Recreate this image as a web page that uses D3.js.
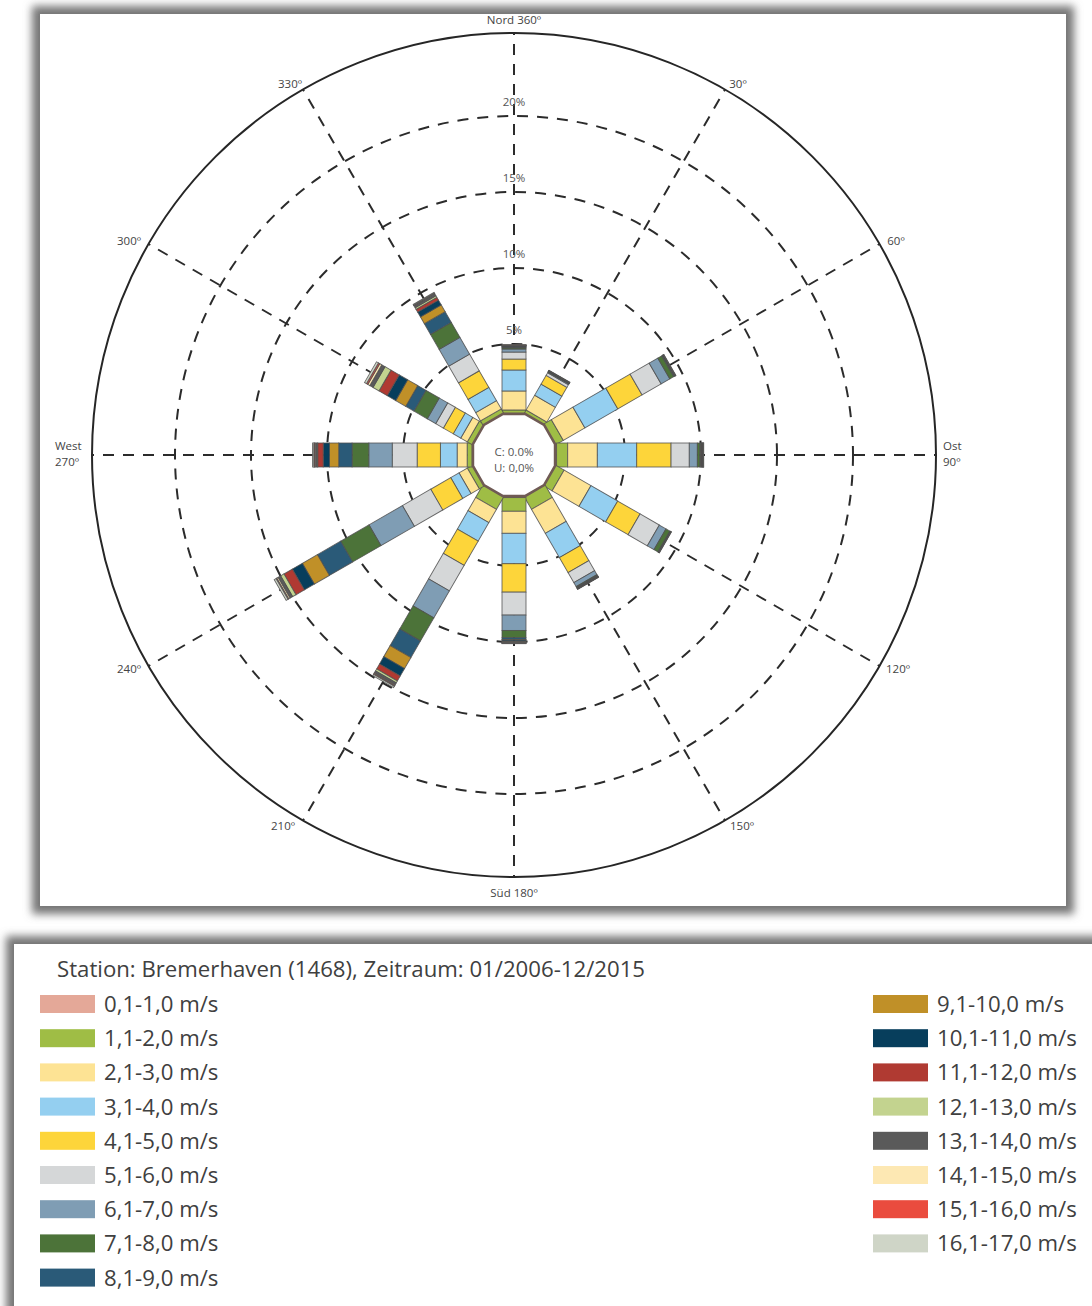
<!DOCTYPE html>
<html>
<head>
<meta charset="utf-8">
<script src="https://cdn.jsdelivr.net/npm/d3@7"></script>
<style>
  html, body { margin: 0; padding: 0; background: #ffffff; }
  svg { display: block; }
</style>
</head>
<body>
<svg id="chart" width="1092" height="1306"></svg>
<script>
// Wind-speed classes (legend order) and their fill colours
const speedClasses = [
  "0,1-1,0 m/s", "1,1-2,0 m/s", "2,1-3,0 m/s", "3,1-4,0 m/s", "4,1-5,0 m/s",
  "5,1-6,0 m/s", "6,1-7,0 m/s", "7,1-8,0 m/s", "8,1-9,0 m/s", "9,1-10,0 m/s",
  "10,1-11,0 m/s", "11,1-12,0 m/s", "12,1-13,0 m/s", "13,1-14,0 m/s",
  "14,1-15,0 m/s", "15,1-16,0 m/s", "16,1-17,0 m/s"
];
const classColors = [
  "#e4a898", "#9fbd45", "#fde394", "#94cff0", "#fdd53a", "#d5d7d8",
  "#7f9db4", "#4c7339", "#2a5a78", "#c09028", "#073e5c", "#b03a32",
  "#c3d38f", "#5a5a5a", "#fde8b3", "#ea4c3e", "#cfd5c7"
];

// Direction sectors (degrees, clockwise from north)
const directions = [0, 30, 60, 90, 120, 150, 180, 210, 240, 270, 300, 330];

// Frequency (%) per speed class for each direction sector
const dir0   = [0.33,0.33,1.25,1.38,0.72,0.46,0.20,0.08,0.05,0.03,0.04,0.02,0.01,0.02,0.01,0.01,0.01];
const dir30  = [0.33,0.33,1.12,0.85,0.66,0.20,0.06,0.03,0.02,0.01,0.03,0.01,0.01,0.02,0.00,0.00,0.00];
const dir60  = [0.33,0.66,1.64,2.50,1.84,1.45,0.66,0.30,0.06,0.02,0.03,0.01,0.01,0.02,0.00,0.00,0.01];
const dir90  = [0.50,0.73,1.95,2.59,2.26,1.20,0.53,0.17,0.06,0.03,0.04,0.02,0.02,0.04,0.01,0.01,0.02];
const dir120 = [0.40,0.65,2.04,2.03,1.70,1.46,0.51,0.30,0.03,0.02,0.02,0.01,0.01,0.02,0.00,0.00,0.00];
const dir150 = [0.40,0.97,1.82,1.85,1.14,0.76,0.30,0.06,0.06,0.02,0.03,0.01,0.01,0.02,0.00,0.00,0.00];
const dir180 = [0.50,0.90,1.45,2.00,1.87,1.51,1.01,0.48,0.12,0.04,0.08,0.03,0.02,0.04,0.02,0.02,0.02];
const dir210 = [0.40,0.97,1.01,1.40,1.85,1.94,2.04,1.76,1.26,0.84,0.56,0.38,0.15,0.15,0.05,0.05,0.10];
const dir240 = [0.40,0.39,0.63,0.63,1.52,2.15,2.54,2.15,1.77,1.14,0.76,0.64,0.25,0.20,0.10,0.05,0.14];
const dir270 = [0.45,0.33,0.66,1.10,1.53,1.64,1.54,1.10,0.88,0.61,0.41,0.36,0.05,0.12,0.04,0.05,0.08];
const dir300 = [0.40,0.39,0.50,0.57,0.75,0.58,0.64,1.01,0.63,0.76,0.64,0.63,0.45,0.25,0.15,0.10,0.15];
const dir330 = [0.40,0.34,0.63,1.01,1.26,1.27,1.27,1.14,0.81,0.51,0.37,0.21,0.12,0.15,0.03,0.03,0.05];
const sectorValues = [dir0, dir30, dir60, dir90, dir120, dir150, dir180, dir210, dir240, dir270, dir300, dir330];

// Ring ticks (%) and compass labels
const ringTicks = [5, 10, 15, 20];
const ringLabels = ["5%", "10%", "15%", "20%"];
const compassLabels = [
  ["Nord 360º"], ["30º"], ["60º"], ["Ost", "90º"], ["120º"], ["150º"],
  ["Süd 180º"], ["210º"], ["240º"], ["West", "270º"], ["300º"], ["330º"]
];
const calmText = ["C: 0.0%", "U: 0,0%"];
const legendTitle = "Station: Bremerhaven (1468), Zeitraum: 01/2006-12/2015";

// ---------------------------------------------------------------
const svg = d3.select("#chart");
const defs = svg.append("defs");
const shadow = defs.append("filter").attr("id", "panelShadow")
  .attr("x", "-5%").attr("y", "-5%").attr("width", "110%").attr("height", "110%");
shadow.append("feGaussianBlur").attr("stdDeviation", 4);

// Framed panels with soft grey edges
function panel(x, y, w, h) {
  svg.append("rect").attr("x", x - 8).attr("y", y - 8)
    .attr("width", w + 16).attr("height", h + 16)
    .attr("fill", "#767676").attr("filter", "url(#panelShadow)");
  svg.append("rect").attr("x", x).attr("y", y)
    .attr("width", w).attr("height", h).attr("fill", "#ffffff");
}
panel(40, 14, 1026, 892);
panel(14, 944, 1100, 400);

const cx = 514, cy = 455;
const outerR = 422;
const r = d3.scaleLinear().domain([0, 20]).range([35, 339]);
const g = svg.append("g").attr("transform", `translate(${cx},${cy})`);
const rad = d => (d - 90) * Math.PI / 180;
const chartFont = "'Open Sans', Lato, sans-serif";

// Outer circle
g.append("circle").attr("r", outerR).attr("fill", "none")
  .attr("stroke", "#262626").attr("stroke-width", 2);

// Dashed rings
g.selectAll("circle.ring").data(ringTicks).join("circle")
  .attr("class", "ring").attr("r", d => r(d))
  .attr("fill", "none").attr("stroke", "#2b2b2b")
  .attr("stroke-width", 2).attr("stroke-dasharray", "11,9");

// Dashed spokes
g.selectAll("line.spoke").data(directions).join("line")
  .attr("class", "spoke")
  .attr("x1", 0).attr("y1", 0)
  .attr("x2", d => outerR * Math.cos(rad(d)))
  .attr("y2", d => outerR * Math.sin(rad(d)))
  .attr("stroke", "#2b2b2b").attr("stroke-width", 2)
  .attr("stroke-dasharray", "11,9");

// Stacked bars
const rows = directions.map((dir, i) => {
  const row = { dir };
  speedClasses.forEach((c, k) => { row[c] = sectorValues[i][k]; });
  return row;
});
const stacked = d3.stack().keys(speedClasses)(rows);
const barW = 24;

stacked.forEach((layer, k) => {
  g.append("g").selectAll("rect").data(layer).join("rect")
    .attr("transform", d => `rotate(${d.data.dir})`)
    .attr("x", -barW / 2)
    .attr("y", d => -r(d[1]))
    .attr("width", barW)
    .attr("height", d => Math.max(0, r(d[1]) - r(d[0])))
    .attr("fill", classColors[k])
    .attr("stroke", "#505050")
    .attr("stroke-width", 0.9)
    .attr("stroke-opacity", 0.85);
});

// Central hub (twelve-sided, edges facing each sector)
const apothem = r(0.4);
const circum = apothem / Math.cos(Math.PI / 12);
const hubPts = d3.range(12).map(i => {
  const a = rad(15 + i * 30);
  return [circum * Math.cos(a), circum * Math.sin(a)];
});
g.append("polygon")
  .attr("points", hubPts.map(p => p.join(",")).join(" "))
  .attr("fill", "#ffffff").attr("stroke", "#6f5a54").attr("stroke-width", 2.6);

g.selectAll("text.calm").data(calmText).join("text")
  .attr("class", "calm")
  .attr("x", 0).attr("y", (d, i) => 1 + i * 16)
  .attr("text-anchor", "middle")
  .attr("font-family", chartFont)
  .attr("font-size", 11.5).attr("fill", "#555")
  .text(d => d);

// Ring labels along the north spoke
g.selectAll("text.ringLabel").data(ringTicks).join("text")
  .attr("class", "ringLabel")
  .attr("x", 0).attr("y", d => -r(d) - 10)
  .attr("text-anchor", "middle")
  .attr("font-family", chartFont)
  .attr("font-size", 11.5).attr("fill", "#555")
  .text((d, i) => ringLabels[i]);

// Compass labels outside the circle
const labelPos = [
  [0, -431, "middle"], [224, -367, "middle"], [382, -210, "middle"],
  [429, -5, "start"], [384, 218, "middle"], [228, 375, "middle"],
  [0, 442, "middle"], [-231, 375, "middle"], [-385, 218, "middle"],
  [-459, -5, "start"], [-385, -210, "middle"], [-224, -367, "middle"]
];
compassLabels.forEach((lines, i) => {
  const [x, y, anchor] = labelPos[i];
  const t = g.append("text")
    .attr("x", x).attr("y", y)
    .attr("text-anchor", anchor)
    .attr("font-family", chartFont)
    .attr("font-size", 11.5).attr("fill", "#444");
  lines.forEach((ln, j) => {
    t.append("tspan").attr("x", x).attr("dy", j === 0 ? 0 : 16).text(ln);
  });
});

// Legend
const legendFont = "'Open Sans', Lato, sans-serif";
const legendSize = 22.2;
svg.append("text").attr("x", 57).attr("y", 977)
  .attr("font-family", legendFont).attr("font-size", legendSize)
  .attr("fill", "#404040").text(legendTitle);

const rowH = 34.2;
const leftCount = 9;
const legendItems = speedClasses.map((c, k) => ({
  label: c, color: classColors[k],
  col: k < leftCount ? 0 : 1,
  row: k < leftCount ? k : k - leftCount
}));
const legend = svg.append("g");
const item = legend.selectAll("g").data(legendItems).join("g")
  .attr("transform", d => `translate(${d.col === 0 ? 40 : 873},${1004 + d.row * rowH})`);
item.append("rect").attr("x", 0).attr("y", -9).attr("width", 55).attr("height", 18)
  .attr("fill", d => d.color);
item.append("text").attr("x", 64).attr("y", 8)
  .attr("font-family", legendFont).attr("font-size", legendSize)
  .attr("fill", "#404040").text(d => d.label);
</script>
</body>
</html>
